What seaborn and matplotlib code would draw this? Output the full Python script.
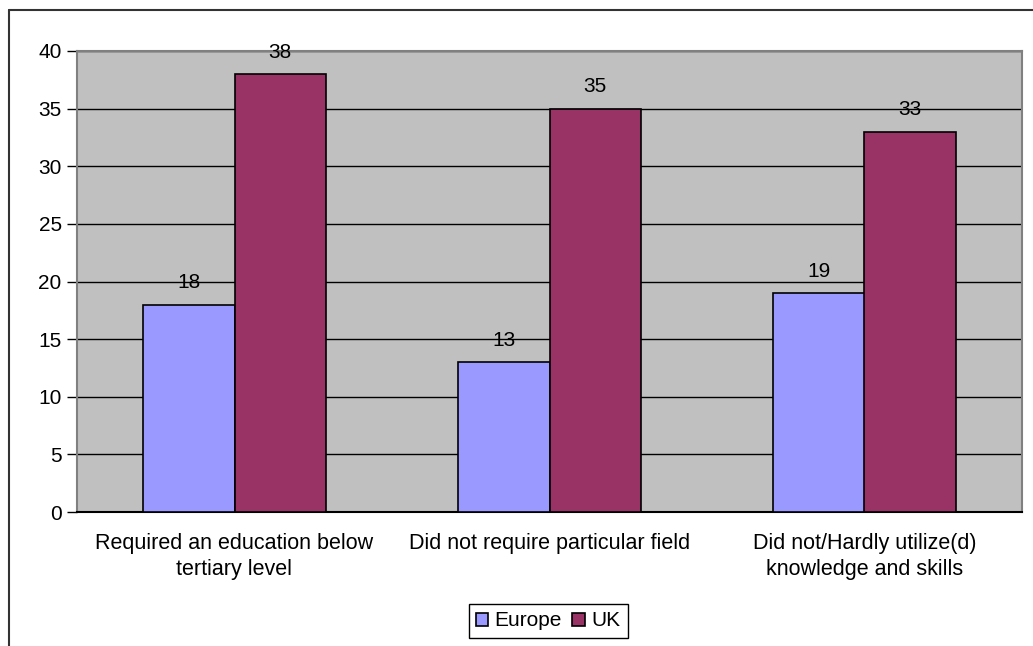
import pandas as pd
import seaborn as sns
import matplotlib.pyplot as plt
from matplotlib.lines import Line2D

categories = ["Required an education below\ntertiary level",
              "Did not require particular field",
              "Did not/Hardly utilize(d)\nknowledge and skills"]
europe = [18, 13, 19]
uk = [38, 35, 33]
series = ["Europe", "UK"]

df = pd.DataFrame({
    "category": categories * 2,
    "value": europe + uk,
    "region": ["Europe"] * 3 + ["UK"] * 3,
})

sns.set_style("white")
plt.rcParams["font.family"] = ["Liberation Sans", "DejaVu Sans"]
plt.rcParams["text.color"] = "black"
plt.rcParams["xtick.color"] = "black"
plt.rcParams["ytick.color"] = "black"

fig = plt.figure(figsize=(10.33, 6.46), dpi=100)
ax = fig.add_axes([77 / 1033, 1 - 512 / 646, 945 / 1033, 461 / 646])
ax.set_facecolor("#C0C0C0")

sns.barplot(data=df, x="category", y="value", hue="region", hue_order=series,
            palette={"Europe": "#9999FF", "UK": "#993366"},
            width=0.578, edgecolor="black", linewidth=1.2, saturation=1,
            legend=True, ax=ax, zorder=3)

for c in ax.containers:
    ax.bar_label(c, padding=9, fontsize=15, color="black")

ax.set_ylim(0, 40)
ax.set_xlim(-0.5, 2.5)
ax.set_yticks(range(0, 41, 5))
ax.yaxis.grid(True, color="black", linewidth=1)
ax.set_axisbelow(True)
ax.set_xlabel("")
ax.set_ylabel("")

ax.set_xticks([-0.5, 0.5, 1.5, 2.5], minor=True)
ax.tick_params(axis="x", which="major", length=0, pad=15, labelsize=15.5)
ax.tick_params(axis="x", which="minor", length=7, color="#808080", width=1.2)
ax.tick_params(axis="y", length=7, color="black", width=1, labelsize=15, pad=4)
ax.tick_params(axis="y", left=True)
for lab in ax.get_xticklabels():
    lab.set_linespacing(1.35)
for s in ax.spines.values():
    s.set_color("#808080")
    s.set_linewidth(1.5)
ax.spines["bottom"].set_color("black")

h, l = ax.get_legend_handles_labels()
ax.get_legend().remove()
fig.legend(h, l, loc="center", bbox_to_anchor=(548 / 1033, 1 - 621 / 646),
           ncol=2, frameon=True, fancybox=False, edgecolor="black",
           framealpha=1, fontsize=15, handlelength=0.6, handleheight=0.6,
           handletextpad=0.3, columnspacing=0.5, borderpad=0.35)

# outer chart frame (left and top edges)
fig.add_artist(Line2D([9 / 1033, 9 / 1033], [0, 1 - 10 / 646],
                      transform=fig.transFigure, color="#333333", linewidth=1.5))
fig.add_artist(Line2D([9 / 1033, 1], [1 - 10 / 646, 1 - 10 / 646],
                      transform=fig.transFigure, color="#333333", linewidth=1.5))

fig.savefig("out.png", dpi=100)
